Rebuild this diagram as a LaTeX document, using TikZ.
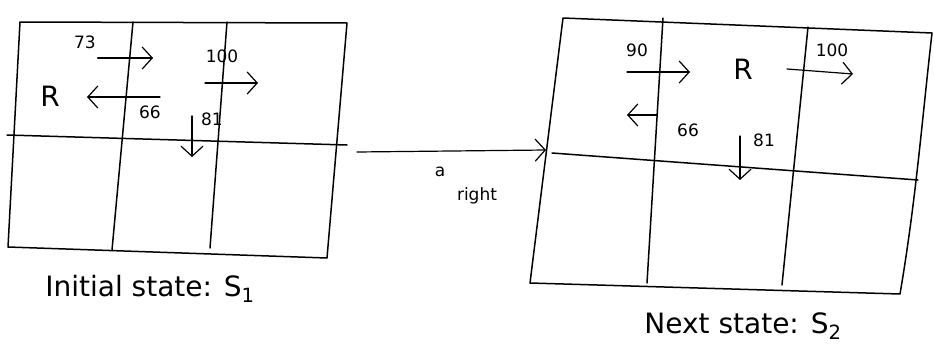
\documentclass[tikz,border=0pt]{standalone}
\usetikzlibrary{arrows.meta}
\usepackage{fontspec}
\setmainfont{DejaVu Sans}
\begin{document}
\begin{tikzpicture}[x=1pt,y=-1pt,
  gridline/.style={line width=1.5pt,line cap=round,line join=round},
  move/.style={line width=1.2pt,line cap=round,-{Straight Barb[length=10pt,width=22pt,line width=1.2pt]}},
  qval/.style={font=\fontsize{17}{17}\selectfont,inner sep=1pt},
  agent/.style={font=\fontsize{28}{28}\selectfont,inner sep=1pt},
  caption/.style={font=\fontsize{28}{28}\selectfont,inner sep=1pt}]
\useasboundingbox (0,0) rectangle (934,343);
\fill[white] (0,0) rectangle (934,343);

% ---- initial state grid (2 x 3 cells)
\coordinate (a-tl) at (20,22);
\coordinate (a-tr) at (347,23);
\coordinate (a-br) at (327,258);
\coordinate (a-bl) at (8,247);
\draw[gridline] (a-tl) -- (a-tr) -- (a-br) -- (a-bl) -- cycle;
\draw[gridline] (7,135) -- (347,145);
\draw[gridline] (133,22) -- (112,250);
\draw[gridline] (227,22) -- (210,248);

\node[agent] (r1) at (50,96) {R};
\node[qval] (q73) at (85,42) {73};
\node[qval] (q100a) at (222,56) {100};
\node[qval] (q66a) at (150,112) {66};
\node[qval] (q81a) at (212,119) {81};
\coordinate (up1s) at (98,58);  \coordinate (up1e) at (153,58);
\coordinate (lt1s) at (160,97); \coordinate (lt1e) at (87,97);
\coordinate (rt1s) at (205,83); \coordinate (rt1e) at (258,83);
\coordinate (dn1s) at (192,116); \coordinate (dn1e) at (192,157);
\draw[move,line width=2.4pt] (up1s) -- (up1e);
\draw[move] (lt1s) -- (lt1e);
\draw[move] (rt1s) -- (rt1e);
\draw[move] (dn1s) -- (dn1e);
\node[caption] (s1) at (150,289) {Initial state: S\textsubscript{1}};

% ---- transition
\coordinate (tr-s) at (357,152);
\coordinate (tr-e) at (546,150);
\draw[move] (tr-s) -- (tr-e);
\node[qval] (act) at (440,172) {a};
\node[qval] (dir) at (477,196) {right};

% ---- next state grid (2 x 3 cells)
\coordinate (b-tl) at (563,18);
\coordinate (b-tr) at (932,33);
\coordinate (b-br) at (900,294);
\coordinate (b-bl) at (530,283);
\draw[gridline] (b-tl) -- (b-tr) .. controls (922,120) and (916,200) .. (b-br) -- (b-bl) -- cycle;
\draw[gridline] (552,153) -- (918,180);
\draw[gridline] (663,18) -- (647,283);
\draw[gridline] (808,27) -- (782,285);

\node[agent] (r2) at (743,69) {R};
\node[qval] (q90) at (637,50) {90};
\node[qval] (q100b) at (832,50) {100};
\node[qval] (q66b) at (688,130) {66};
\node[qval] (q81b) at (764,140) {81};
\coordinate (lf2s) at (627,72); \coordinate (lf2e) at (690,72);
\coordinate (rt2s) at (787,69); \coordinate (rt2e) at (853,74);
\coordinate (lt2s) at (657,115); \coordinate (lt2e) at (627,115);
\coordinate (dn2s) at (740,136); \coordinate (dn2e) at (740,180);
\draw[move] (lf2s) -- (lf2e);
\draw[move] (rt2s) -- (rt2e);
\draw[move] (lt2s) -- (lt2e);
\draw[move] (dn2s) -- (dn2e);
\node[caption] (s2) at (743,326) {Next state: S\textsubscript{2}};
\end{tikzpicture}
\end{document}
